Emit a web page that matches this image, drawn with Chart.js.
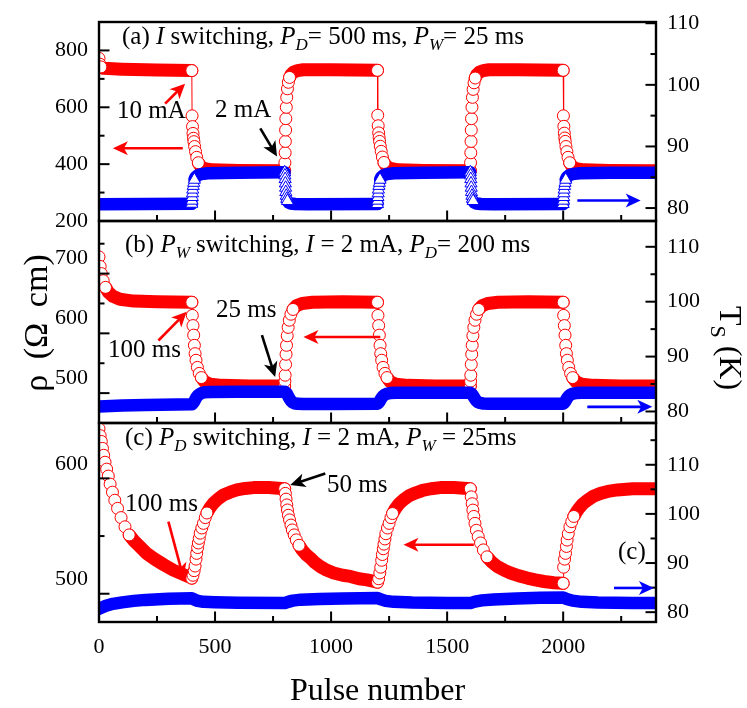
<!DOCTYPE html>
<html>
<head>
<meta charset="utf-8">
<script src="https://cdn.jsdelivr.net/npm/chart.js@4.4.1/dist/chart.umd.min.js"></script>
<style>
  html, body { margin: 0; padding: 0; background: #fff; }
  #wrap { position: relative; width: 747px; height: 708px; overflow: hidden; }
  #wrap canvas, #wrap svg { position: absolute; left: 0; top: 0; }
  svg text { font-family: "Liberation Serif", "Times New Roman", serif; fill: #000; }
</style>
</head>
<body>
<div id="wrap">
  <canvas id="panelA" width="747" height="708"></canvas>
  <canvas id="panelB" width="747" height="708"></canvas>
  <canvas id="panelC" width="747" height="708"></canvas>
  <svg width="747" height="708">
    <text x="122" y="43.5" font-size="25">(a) <tspan font-style="italic">I</tspan> switching, <tspan font-style="italic">P</tspan><tspan font-style="italic" font-size="17" dy="6">D</tspan><tspan dy="-6">= 500 ms, </tspan><tspan font-style="italic">P</tspan><tspan font-style="italic" font-size="17" dy="6">W</tspan><tspan dy="-6">= 25 ms</tspan></text>
    <text x="125" y="251.5" font-size="25">(b) <tspan font-style="italic">P</tspan><tspan font-style="italic" font-size="17" dy="6">W</tspan><tspan dy="-6"> switching, </tspan><tspan font-style="italic">I</tspan> = 2 mA, <tspan font-style="italic">P</tspan><tspan font-style="italic" font-size="17" dy="6">D</tspan><tspan dy="-6">= 200 ms</tspan></text>
    <text x="125" y="445" font-size="25">(c) <tspan font-style="italic">P</tspan><tspan font-style="italic" font-size="17" dy="6">D</tspan><tspan dy="-6"> switching, </tspan><tspan font-style="italic">I</tspan> = 2 mA, <tspan font-style="italic">P</tspan><tspan font-style="italic" font-size="17" dy="6">W</tspan><tspan dy="-6"> = 25ms</tspan></text>
    <text x="117" y="118" font-size="25">10 mA</text>
    <text x="215" y="117" font-size="25">2 mA</text>
    <text x="108" y="357" font-size="25">100 ms</text>
    <text x="216" y="317" font-size="25">25 ms</text>
    <text x="125" y="511" font-size="25">100 ms</text>
    <text x="327" y="492" font-size="25">50 ms</text>
    <text x="618" y="559" font-size="25">(c)</text>
    <text transform="translate(47,323) rotate(-90)" text-anchor="middle" font-size="34" word-spacing="7">ρ (Ω cm)</text>
    <text transform="translate(720,348) rotate(90)" text-anchor="middle" font-size="32">T<tspan font-size="22" dy="9">S</tspan><tspan dy="-9"> (K)</tspan></text>
  </svg>
</div>
<script>
// (a) current switching
const aRhoPulse = [0, 3, 8, 20, 100, 250, 400,
  401, 403, 405, 407, 409, 412, 416, 421, 428, 438, 455, 490, 600, 800,
  801, 802, 803, 804, 805, 807, 809, 812, 816, 821, 828, 838, 855, 880, 1000, 1200,
  1201, 1203, 1205, 1207, 1209, 1212, 1216, 1221, 1228, 1238, 1255, 1290, 1400, 1600,
  1601, 1602, 1603, 1604, 1605, 1607, 1609, 1612, 1616, 1621, 1628, 1638, 1655, 1680, 1800, 2000,
  2001, 2003, 2005, 2007, 2009, 2012, 2016, 2021, 2028, 2038, 2055, 2090, 2200, 2400]
const aRho = [772, 752, 742, 737, 734, 731, 729,
  570, 532, 508, 491, 479, 462, 444, 424, 405, 392, 384, 380, 378, 377,
  405, 440, 480, 520, 560, 600, 635, 665, 688, 705, 716, 724, 729, 732, 732, 730,
  572, 535, 510, 493, 480, 463, 445, 425, 406, 393, 385, 380, 378, 377,
  405, 440, 480, 520, 560, 600, 635, 663, 686, 703, 715, 723, 729, 732, 732, 730,
  570, 533, 509, 492, 480, 462, 444, 424, 405, 392, 384, 380, 378, 377]
const aTPulse = [0, 200, 400,
  401, 402, 403, 404, 406, 408, 411, 416, 425, 440, 470, 600, 800,
  801, 802, 803, 804, 805, 807, 809, 812, 817, 826, 845, 900, 1200,
  1201, 1202, 1203, 1204, 1206, 1208, 1211, 1216, 1225, 1240, 1270, 1400, 1600,
  1601, 1602, 1603, 1604, 1605, 1607, 1609, 1612, 1617, 1626, 1645, 1700, 2000,
  2001, 2002, 2003, 2004, 2006, 2008, 2011, 2016, 2025, 2040, 2070, 2200, 2400]
const aT = [80.6, 80.65, 80.7,
  81.2, 81.8, 82.4, 83.0, 83.6, 84.1, 84.6, 85.0, 85.3, 85.5, 85.65, 85.75, 85.8,
  85.3, 84.7, 84.0, 83.3, 82.6, 82.0, 81.5, 81.15, 80.9, 80.75, 80.65, 80.6, 80.65,
  81.2, 81.8, 82.4, 83.0, 83.6, 84.1, 84.6, 85.0, 85.3, 85.5, 85.65, 85.75, 85.8,
  85.3, 84.7, 84.0, 83.3, 82.6, 82.0, 81.5, 81.15, 80.9, 80.75, 80.65, 80.6, 80.65,
  81.2, 81.8, 82.4, 83.0, 83.6, 84.1, 84.6, 85.0, 85.3, 85.5, 85.65, 85.75, 85.75]

// (b) pulse width switching
const bRhoPulse = [0, 5, 10, 18, 28, 40, 60, 90, 150, 250, 400,
  402, 405, 408, 411, 414, 418, 424, 432, 441, 455, 480, 530, 650, 800,
  801, 802, 804, 806, 808, 811, 815, 820, 827, 836, 850, 875, 920, 1050, 1200,
  1202, 1205, 1208, 1211, 1214, 1218, 1224, 1232, 1241, 1255, 1280, 1330, 1450, 1600,
  1601, 1602, 1604, 1606, 1608, 1611, 1615, 1620, 1627, 1636, 1650, 1675, 1720, 1850, 2000,
  2002, 2005, 2008, 2011, 2014, 2018, 2024, 2032, 2041, 2055, 2080, 2130, 2250, 2400]
const bRho = [728, 712, 700, 688, 677, 669, 662, 657, 654, 653, 652,
  630, 613, 597, 580, 566, 555, 543, 533, 526, 519, 515, 513, 512, 512,
  520, 530, 548, 565, 580, 596, 610, 622, 632, 640, 646, 650, 652, 653, 652,
  630, 613, 597, 580, 566, 555, 543, 533, 526, 519, 515, 513, 512, 512,
  520, 530, 548, 565, 580, 596, 610, 622, 632, 640, 646, 650, 652, 653, 652,
  630, 613, 597, 580, 566, 555, 543, 533, 526, 519, 515, 513, 512, 512]
const bTPulse = [0, 100, 200, 400,
  405, 410, 415, 420, 426, 433, 442, 455, 480, 600, 800,
  805, 810, 815, 820, 826, 833, 842, 855, 880, 1000, 1200,
  1205, 1210, 1215, 1220, 1226, 1233, 1242, 1255, 1280, 1400, 1600,
  1605, 1610, 1615, 1620, 1626, 1633, 1642, 1655, 1680, 1800, 2000,
  2005, 2010, 2015, 2020, 2026, 2033, 2042, 2055, 2080, 2200, 2400]
const bT = [80.9, 81.1, 81.2, 81.3,
  81.5, 81.8, 82.2, 82.6, 82.9, 83.15, 83.35, 83.5, 83.55, 83.6, 83.6,
  83.45, 83.2, 82.8, 82.4, 82.0, 81.7, 81.5, 81.4, 81.35, 81.35, 81.4,
  81.6, 81.9, 82.3, 82.6, 82.9, 83.1, 83.25, 83.35, 83.4, 83.4, 83.4,
  83.25, 83.0, 82.65, 82.3, 81.95, 81.7, 81.55, 81.45, 81.4, 81.4, 81.4,
  81.6, 81.9, 82.3, 82.6, 82.9, 83.1, 83.25, 83.35, 83.4, 83.4, 83.4]

// (c) pulse delay switching
const cRhoPulse = [0, 5, 10, 15, 20, 26, 33, 40, 48, 58, 68, 80, 95, 112, 130, 150, 175, 205, 240, 280, 320, 360, 400,
  405, 410, 414, 418, 421, 425, 428, 432, 436, 443, 450, 458, 465, 478, 493, 512, 536, 565, 594, 630, 666, 730, 800,
  803, 806, 809, 812, 816, 821, 827, 833, 841, 850, 862, 875, 892, 910, 930, 953, 980, 1011, 1050, 1083, 1120, 1155, 1200,
  1205, 1210, 1214, 1218, 1221, 1225, 1228, 1232, 1236, 1243, 1250, 1258, 1265, 1278, 1293, 1312, 1336, 1365, 1394, 1430, 1470, 1530, 1600,
  1604, 1608, 1611, 1615, 1620, 1626, 1634, 1644, 1656, 1672, 1692, 1716, 1745, 1773, 1810, 1845, 1880, 1917, 1960, 2000,
  2002, 2006, 2010, 2014, 2017, 2022, 2029, 2037, 2046, 2056, 2068, 2085, 2104, 2130, 2161, 2200, 2233, 2300, 2400]
const cRho = [643, 637, 632, 626, 620, 614, 608, 602, 595, 588, 581, 574, 566, 558, 551, 546, 541, 535, 530, 525, 520.5, 517, 513.5,
  516, 520, 524, 530, 535, 540, 544, 548, 552.5, 557, 561, 566, 570, 574.5, 578.4, 582, 585.6, 588, 590, 591.3, 592, 592, 591,
  587, 582, 577, 572.6, 568, 564, 559.5, 555.3, 551, 546.7, 542, 538, 534, 531, 527, 523.6, 520.5, 518, 516, 515, 513, 512, 510,
  513, 518, 523, 529, 534, 539, 543, 547.5, 552, 557, 561, 566, 569.5, 574, 578, 581.5, 585, 587.5, 589.5, 591, 592, 592, 591,
  584, 578, 572.5, 567, 561, 555, 549.5, 544, 538, 532, 527.5, 523.6, 520.5, 518, 515.5, 513.6, 512, 510.6, 509.5, 509,
  523, 530, 535, 541, 546.5, 552, 558, 562.5, 567, 570.5, 574, 578, 581, 584.5, 587, 589, 590, 591, 591]
const cTPulse = [0, 30, 60, 100, 150, 200, 300, 400,
  410, 425, 450, 500, 600, 800,
  815, 835, 870, 950, 1050, 1200,
  1215, 1235, 1270, 1350, 1500, 1600,
  1620, 1650, 1700, 1800, 1900, 2000,
  2015, 2040, 2080, 2150, 2300, 2400]
const cT = [80.7, 81.3, 81.7, 82.0, 82.3, 82.5, 82.75, 82.85,
  82.6, 82.3, 82.1, 82.0, 81.9, 81.85,
  82.1, 82.35, 82.55, 82.7, 82.8, 82.9,
  82.6, 82.3, 82.1, 81.95, 81.85, 81.85,
  82.15, 82.4, 82.6, 82.8, 82.95, 83.0,
  82.7, 82.35, 82.1, 81.95, 81.85, 81.85]

const red = "#ff0000"
const blue = "#0000ff"
const serif = "'Liberation Serif', 'Times New Roman', serif"

Chart.defaults.font.family = serif
Chart.defaults.color = "#000"

function pts(xs, ys) {
    return xs.map((x, i) => ({ x: x, y: ys[i] }))
}

// a step between two points is "steep" when it is mostly vertical in pixels
function steep(ax, ay, bx, by) {
    return Math.abs(by - ay) > 1.5 * Math.abs(bx - ax) + 1
}

// markers only show where the curve jumps; on the flat parts the dense markers merge into a band
function markerSize(r) {
    return function (ctx) {
        if (ctx.type !== "data") return r
        const d = ctx.dataset.data
        const i = ctx.dataIndex
        const xs = ctx.chart.scales.x
        const ys = ctx.chart.scales[ctx.dataset.yAxisID]
        const px = k => xs.getPixelForValue(d[k].x)
        const py = k => ys.getPixelForValue(d[k].y)
        if (i > 0 && steep(px(i - 1), py(i - 1), px(i), py(i))) return r
        if (i < d.length - 1 && steep(px(i), py(i), px(i + 1), py(i + 1))) return r
        return 0
    }
}

function series(data, axis, color, style, r, band, order) {
    return {
        data: data,
        yAxisID: axis,
        order: order,
        borderColor: color,
        borderWidth: 1,
        borderCapStyle: "round",
        borderJoinStyle: "round",
        tension: 0,
        clip: 0,
        pointStyle: style,
        pointRadius: markerSize(r),
        pointBorderWidth: 1,
        pointBorderColor: color,
        pointBackgroundColor: "#fff",
        segment: {
            borderWidth: c => (steep(c.p0.x, c.p0.y, c.p1.x, c.p1.y) ? 1 : band),
        },
    }
}

function drawArrow(ctx, x1, y1, x2, y2, color) {
    const ang = Math.atan2(y2 - y1, x2 - x1)
    const len = Math.hypot(x2 - x1, y2 - y1)
    ctx.save()
    ctx.translate(x2, y2)
    ctx.rotate(ang)
    ctx.strokeStyle = color
    ctx.fillStyle = color
    ctx.lineWidth = 2.6
    ctx.beginPath()
    ctx.moveTo(-len, 0)
    ctx.lineTo(-10, 0)
    ctx.stroke()
    ctx.beginPath()
    ctx.moveTo(0, 0)
    ctx.lineTo(-15, -7)
    ctx.lineTo(-11, 0)
    ctx.lineTo(-15, 7)
    ctx.closePath()
    ctx.fill()
    ctx.restore()
}

// frame, inward ticks and arrows for each panel
const panelFrame = {
    id: "panelFrame",
    afterDatasetsDraw(chart, args, opts) {
        const { ctx, chartArea: a, scales } = chart
        ctx.save()
        ctx.strokeStyle = "#000"
        ctx.lineWidth = 2
        scales.x.ticks.forEach(t => {
            const p = scales.x.getPixelForValue(t.value)
            const len = t.value % 500 === 0 ? 10.5 : 6
            ctx.beginPath()
            ctx.moveTo(p, a.bottom)
            ctx.lineTo(p, a.bottom - len)
            ctx.stroke()
        })
        ;["yL", "yR"].forEach(id => {
            const s = scales[id]
            s.ticks.forEach(t => {
                const p = s.getPixelForValue(t.value)
                const len = t.label !== "" ? 10.5 : 5.5
                const x0 = id === "yL" ? a.left : a.right
                const dir = id === "yL" ? 1 : -1
                ctx.beginPath()
                ctx.moveTo(x0, p)
                ctx.lineTo(x0 + dir * len, p)
                ctx.stroke()
            })
        })
        ctx.lineWidth = 2.4
        ctx.strokeRect(a.left, a.top, a.right - a.left, a.bottom - a.top)
        const arrows = opts.arrows || []
        arrows.forEach(ar => {
            drawArrow(ctx,
                scales.x.getPixelForValue(ar.x1), scales.yL.getPixelForValue(ar.y1),
                scales.x.getPixelForValue(ar.x2), scales.yL.getPixelForValue(ar.y2), ar.c)
        })
        ctx.restore()
    },
}

function makePanel(id, cfg) {
    const tickFont = { family: serif, size: 22, lineHeight: 1 }
    return new Chart(document.getElementById(id), {
        type: "line",
        data: {
            datasets: [
                series(pts(cfg.rhoX, cfg.rhoY), "yL", red, "circle", 6, 13, 2),
                series(pts(cfg.tX, cfg.tY), "yR", blue, "triangle", 7, 12.5, 1),
            ],
        },
        options: {
            responsive: false,
            animation: false,
            events: [],
            layout: { padding: { top: cfg.top, bottom: cfg.bottom, left: 0, right: 0 } },
            plugins: {
                legend: { display: false },
                tooltip: { enabled: false },
                panelFrame: { arrows: cfg.arrows },
            },
            scales: {
                x: {
                    type: "linear",
                    min: 0,
                    max: 2400,
                    display: cfg.showX,
                    grid: { display: false, drawTicks: false },
                    border: { display: false },
                    ticks: {
                        stepSize: 250,
                        padding: 14,
                        font: tickFont,
                        color: "#000",
                        autoSkip: false,
                        maxRotation: 0,
                        includeBounds: false,
                        callback: v => (v % 500 === 0 ? v : ""),
                    },
                    title: {
                        display: cfg.showX,
                        text: "Pulse number",
                        color: "#000",
                        font: { family: serif, size: 32, lineHeight: 1 },
                        padding: 0,
                    },
                    afterFit: s => {
                        if (cfg.showX) s.height = 86
                    },
                },
                yL: {
                    type: "linear",
                    position: "left",
                    min: cfg.rhoMin,
                    max: cfg.rhoMax,
                    grid: { display: false, drawTicks: false },
                    border: { display: false },
                    ticks: {
                        stepSize: cfg.rhoStep,
                        padding: 11,
                        labelOffset: cfg.rhoShift,
                        font: tickFont,
                        color: "#000",
                        autoSkip: false,
                        includeBounds: false,
                        callback: v => (v % cfg.rhoMajor === 0 ? v : ""),
                    },
                    afterFit: s => {
                        s.width = 99
                    },
                },
                yR: {
                    type: "linear",
                    position: "right",
                    min: cfg.tMin,
                    max: cfg.tMax,
                    grid: { display: false, drawTicks: false },
                    border: { display: false },
                    ticks: {
                        stepSize: 5,
                        padding: 11,
                        font: tickFont,
                        color: "#000",
                        autoSkip: false,
                        includeBounds: false,
                        callback: v => (v % 10 === 0 ? v : ""),
                    },
                    afterFit: s => {
                        s.width = 91
                    },
                },
            },
        },
        plugins: [panelFrame],
    })
}

makePanel("panelA", {
    top: 20, bottom: 487, showX: false,
    rhoX: aRhoPulse, rhoY: aRho, tX: aTPulse, tY: aT,
    rhoMin: 200, rhoMax: 900, rhoStep: 100, rhoMajor: 200, rhoShift: 0,
    tMin: 77.9, tMax: 110.2,
    arrows: [
        { x1: 285, y1: 613, x2: 371, y2: 683, c: red },
        { x1: 361, y1: 456, x2: 60, y2: 456, c: red },
        { x1: 695, y1: 526, x2: 767, y2: 427, c: "#000" },
        { x1: 2061, y1: 272, x2: 2334, y2: 272, c: blue },
    ],
})

makePanel("panelB", {
    top: 221, bottom: 285, showX: false,
    rhoX: bRhoPulse, rhoY: bRho, tX: bTPulse, tY: bT,
    rhoMin: 450, rhoMax: 788, rhoStep: 50, rhoMajor: 100, rhoShift: -15,
    tMin: 77.9, tMax: 114.7,
    arrows: [
        { x1: 256, y1: 588, x2: 378, y2: 636, c: red },
        { x1: 702, y1: 597, x2: 759, y2: 527, c: "#000" },
        { x1: 1212, y1: 594, x2: 881, y2: 594, c: red },
        { x1: 2104, y1: 477, x2: 2384, y2: 477, c: blue },
    ],
})

makePanel("panelC", {
    top: 423, bottom: 0, showX: true,
    rhoX: cRhoPulse, rhoY: cRho, tX: cTPulse, tY: cT,
    rhoMin: 475.5, rhoMax: 648, rhoStep: 50, rhoMajor: 100, rhoShift: -14.5,
    tMin: 78, tMax: 118.5,
    arrows: [
        { x1: 299, y1: 562.5, x2: 364, y2: 513.6, c: red },
        { x1: 975, y1: 604.3, x2: 824, y2: 594.2, c: "#000" },
        { x1: 1615, y1: 542.4, x2: 1312, y2: 542.4, c: red },
        { x1: 2219, y1: 505, x2: 2391, y2: 505, c: blue },
    ],
})
</script>
</body>
</html>
